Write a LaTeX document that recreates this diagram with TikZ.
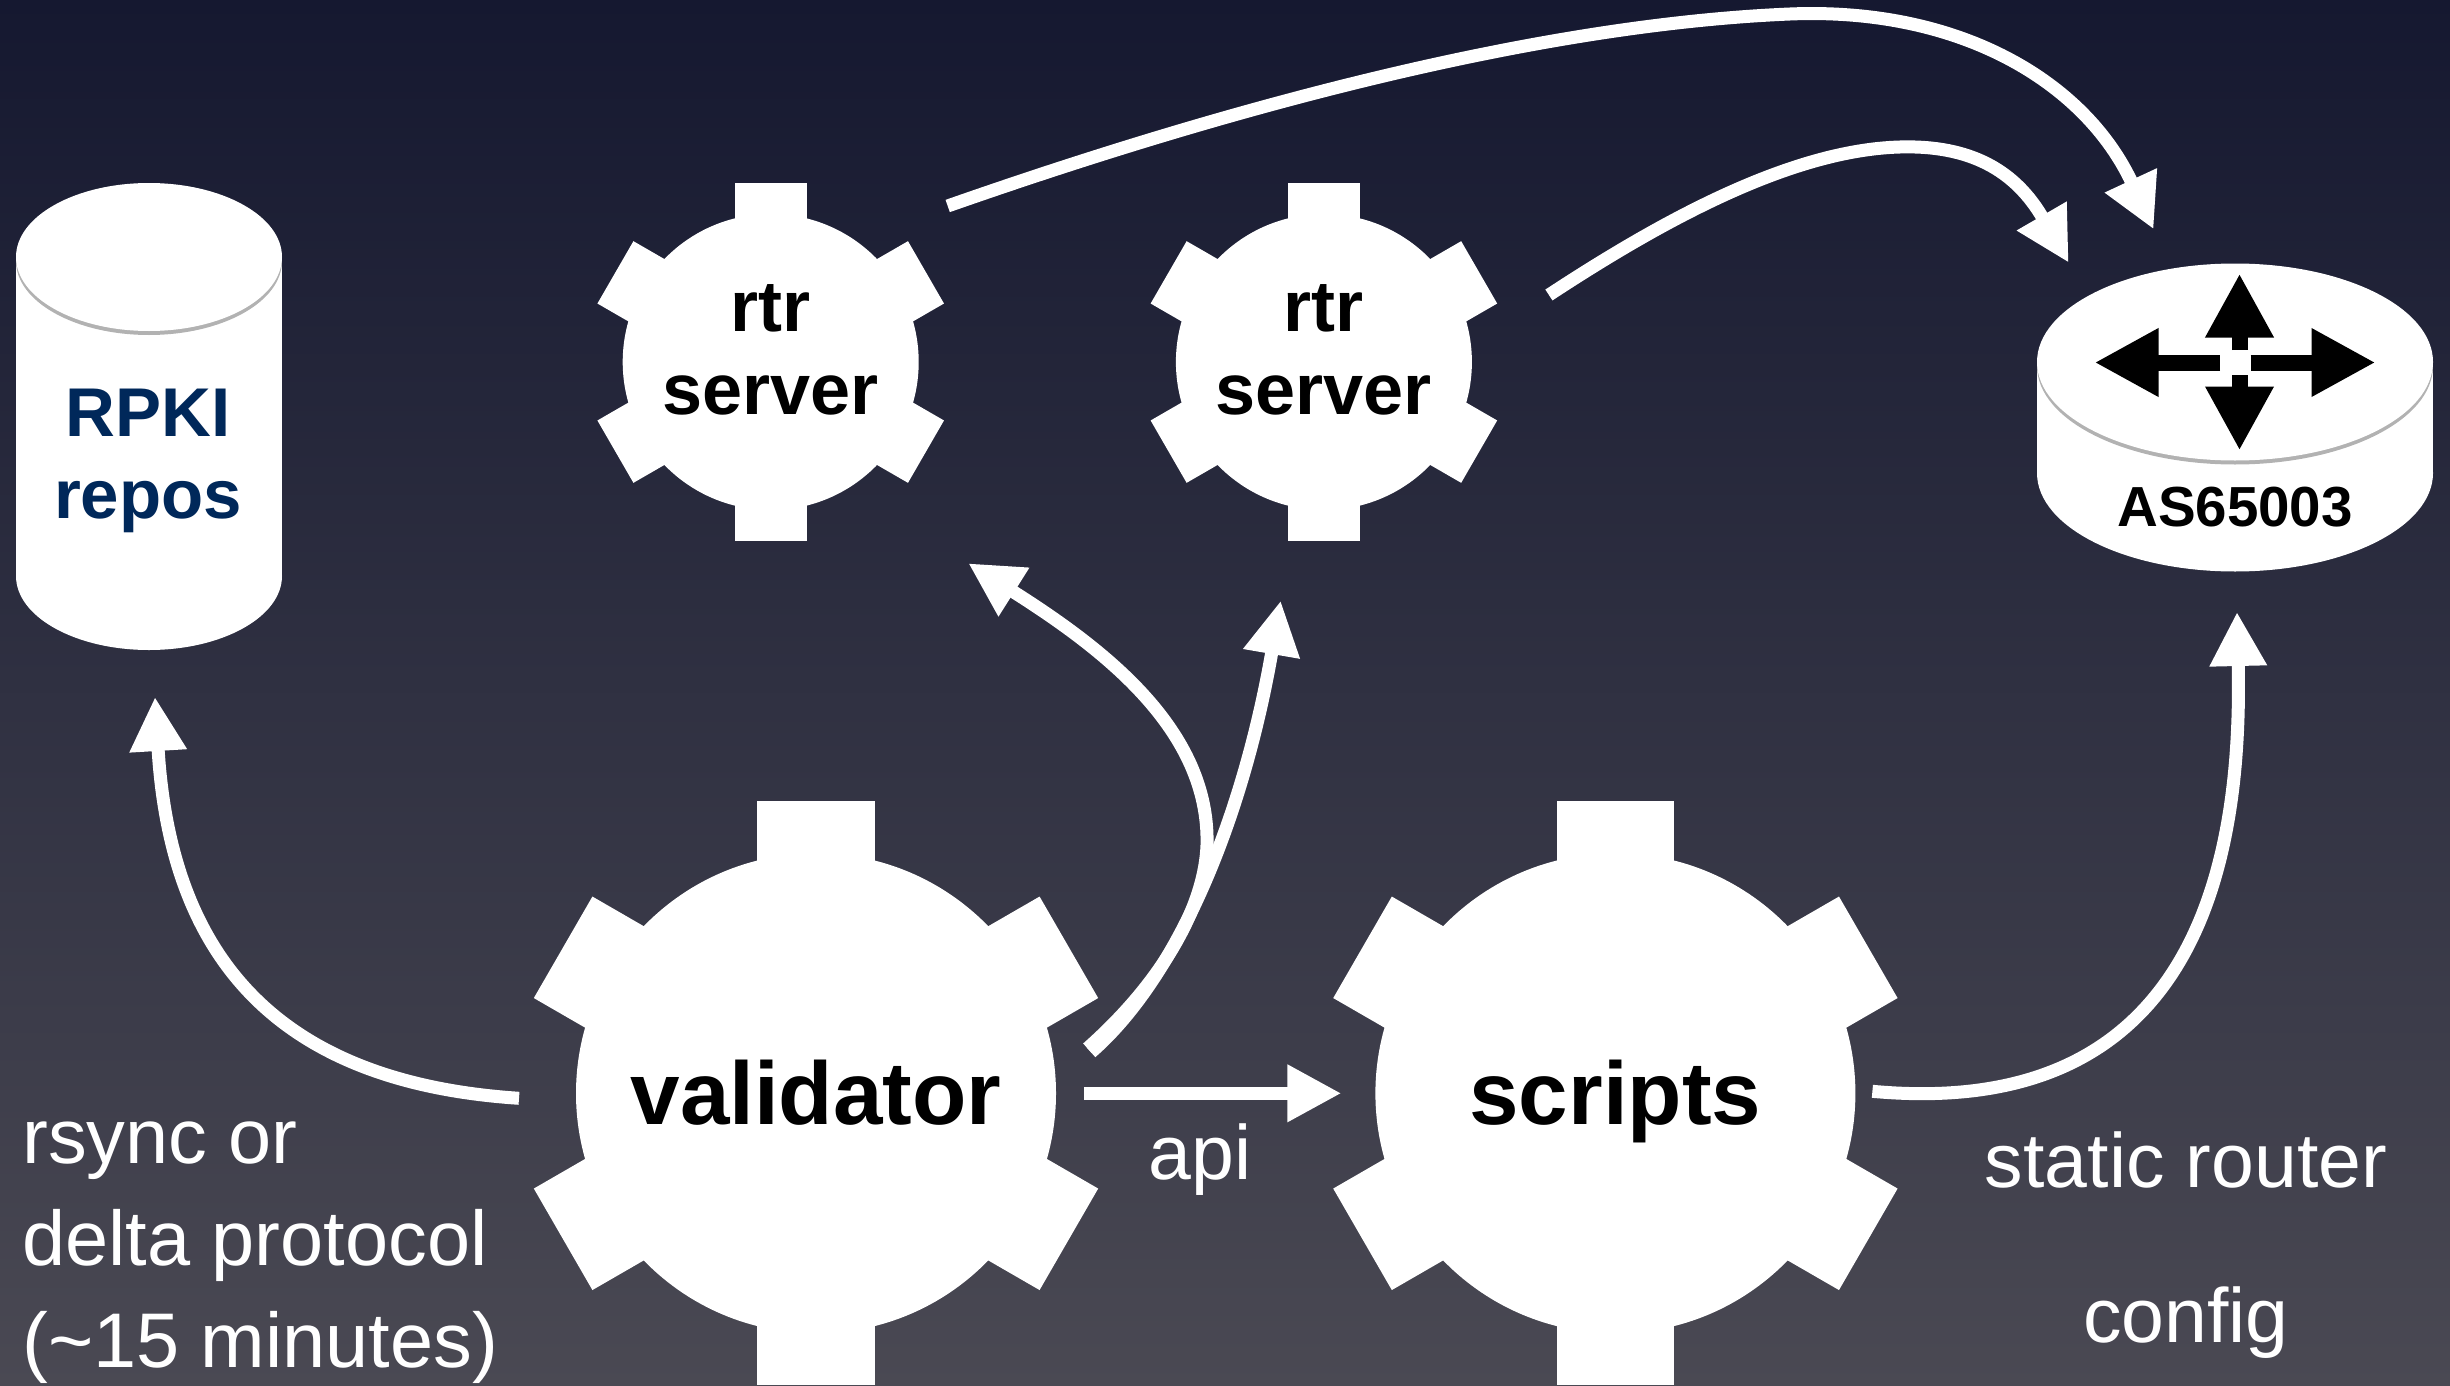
\documentclass[tikz,border=0pt]{standalone}
\usepackage{fontspec}
\setmainfont{Liberation Sans}
\usetikzlibrary{arrows.meta, calc, positioning, shadows, shapes.geometric}

\definecolor{skytop}{RGB}{21,24,48}
\definecolor{skybottom}{RGB}{74,73,83}
\definecolor{reponavy}{RGB}{0,40,90}

\newcommand{\gearteeth}[4]{
  \begin{scope}[shift={(#1)}]
    \foreach \a in {0,60,...,300}
      \fill[white, rotate=\a] (-#2,#3) rectangle (#2,#4);
  \end{scope}
}

\tikzset{
  flow/.style={draw=white, line width=13pt, -{Triangle[length=54pt, width=54pt, fill=white]}},
  hubarrow/.style={draw=black, line width=16pt, -{Triangle[length=64pt, width=64pt, fill=black]}},
  gear/.style={circle, fill=white, inner sep=0pt, font=\bfseries\fontsize{89}{89}\selectfont, text height=62pt, text depth=0pt},
  smallgear/.style={circle, fill=white, inner sep=0pt, align=center, font=\bfseries\fontsize{72}{83}\selectfont, text depth=24pt},
  drumcap/.style={ellipse, fill=white, inner sep=0pt},
  caption/.style={text=white, font=\fontsize{77}{102}\selectfont, inner sep=0pt},
}

\begin{document}
\begin{tikzpicture}[x=1pt, y=-1pt]
    \shade[top color=skytop, bottom color=skybottom] (0,0) rectangle (2450,1386);
    \useasboundingbox (0,0) rectangle (2450,1386);

    % repository
    \node[drumcap, minimum width=266pt, minimum height=148pt] (reposbase) at (149,576) {};
    \fill[white] (reposbase.west) rectangle (282,257);
    \node[drumcap, minimum width=266pt, minimum height=148pt, drop shadow={shadow xshift=0pt, shadow yshift=-4pt, fill=black, opacity=.3}] (reposcap) at (149,257) {};
    \node[text=reponavy, align=center, font=\bfseries\fontsize{69}{82}\selectfont, inner sep=0pt] (repos) at (148,460.5) {RPKI\\repos};

    % router
    \node[drumcap, minimum width=396pt, minimum height=197pt] (routerbase) at (2235,473) {};
    \fill[white] (routerbase.west) rectangle (2433,362);
    \node[drumcap, minimum width=396pt, minimum height=197pt, drop shadow={shadow xshift=0pt, shadow yshift=-4pt, fill=black, opacity=.3}] (router) at (2235,362) {};
    \coordinate (hub) at (2239.5,362.5);
    \draw[hubarrow] ($(hub)+(0,-12.5)$) -- ($(hub)+(0,-89)$);
    \draw[hubarrow] ($(hub)+(0,12.5)$) -- ($(hub)+(0,88)$);
    \draw[hubarrow] ($(hub)+(-19.5,0)$) -- ($(hub)+(-145,0)$);
    \draw[hubarrow] ($(hub)+(11,0)$) -- ($(hub)+(136,0)$);
    \node[font=\bfseries\fontsize{56.5}{57}\selectfont, inner sep=0pt, anchor=base] (asn) at (2235,526) {AS65003};

    % gears
    \node[smallgear, minimum size=296pt] (rtrone) at (770.7,362) {rtr\\server};
    \node[smallgear, minimum size=296pt, right = 256.8pt of rtrone] (rtrtwo) {rtr\\server};
    \node[gear, minimum size=480pt] (validator) at (816,1093.3) {validator};
    \node[gear, minimum size=480pt, right = 319pt of validator] (scripts) {scripts};
    \gearteeth{rtrone}{36}{130}{179.3}
    \gearteeth{rtrtwo}{36}{130}{179.3}
    \gearteeth{validator}{58.6}{210}{292}
    \gearteeth{scripts}{58.6}{210}{292}

    % connectors
    \draw[flow] ($(rtrone)+(177,-156)$) .. controls (1250,100) and (1550,24) .. (1790,14) .. controls (1960,7) and (2085,82) .. ($(router)+(-81.4,-132.7)$);
    \draw[flow] ($(rtrtwo)+(225,-67)$) .. controls (1660,222) and (1790,150) .. (1900,147) .. controls (1970,145) and (2015,170) .. ($(router)+(-166.3,-99.3)$);
    \draw[flow] ($(validator)+(-297,5)$) .. controls (270,1082) and (170,950) .. ($(reposbase)+(6,121)$);
    \draw[flow] ($(validator)+(271.5,-45)$) .. controls (1170,975) and (1205,900) .. (1207,845) .. controls (1210,730) and (1104,649) .. ($(rtrone)+(197.6,201.3)$);
    \draw[flow] ($(validator)+(275,-41)$) .. controls (1180,975) and (1244,813) .. ($(rtrtwo)+(-43.2,238.7)$);
    \draw[flow] ($(validator)+(268,0)$) -- ($(scripts)+(-274,0)$);
    \draw[flow] ($(scripts)+(257,-2)$) .. controls (2130,1115) and (2245,960) .. ($(routerbase)+(2,139)$);

    % labels
    \node[caption, align=left, anchor=base west, font=\fontsize{77.5}{102}\selectfont] (fetch) at (22,1367.5) {rsync or\\delta protocol\\(\char`\~15 minutes)};
    \node[caption, anchor=base] (api) at (1200,1179) {api};
    \node[caption, align=center, anchor=base, font=\fontsize{77}{155}\selectfont] (config) at (2186,1342) {static router\\config};
\end{tikzpicture}
\end{document}
